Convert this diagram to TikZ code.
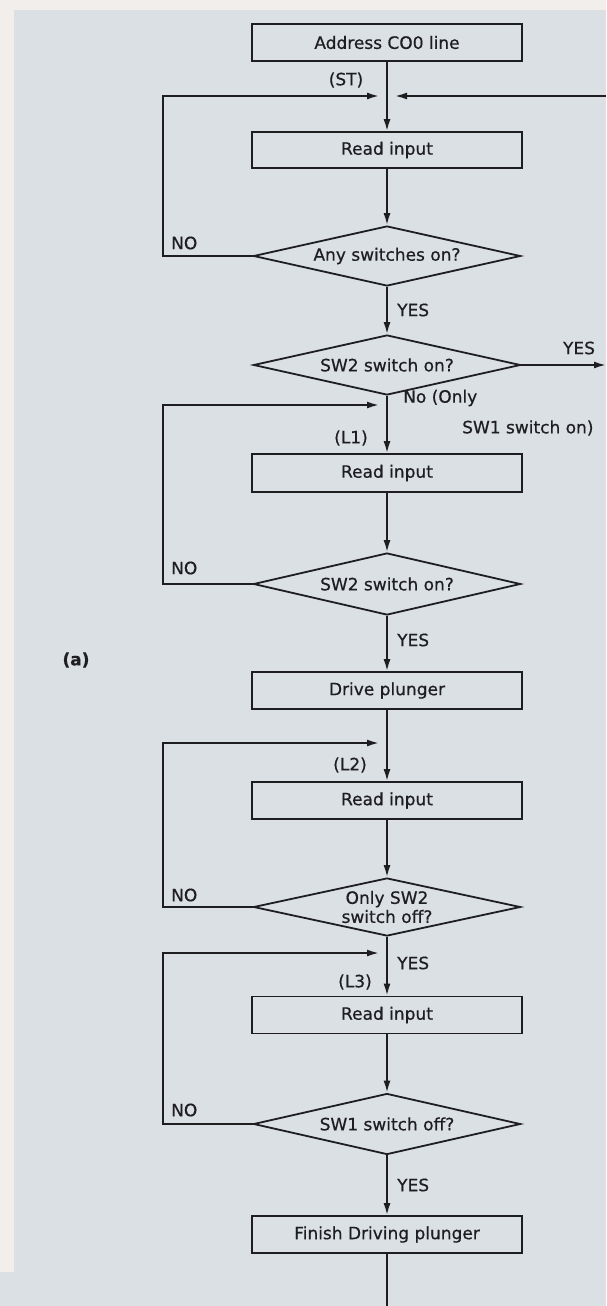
\documentclass[tikz,border=0pt]{standalone}
\usepackage{fontspec}
\setmainfont[FakeBold=0.6]{DejaVu Sans}
\usetikzlibrary{shapes.geometric,arrows.meta}
\definecolor{bg}{RGB}{219,224,229}
\definecolor{strip}{RGB}{242,238,236}
\definecolor{ink}{RGB}{30,30,33}
\begin{document}
\begin{tikzpicture}[x=1pt,y=-1pt,
  every node/.style={font=\fontsize{17}{19}\selectfont, text=ink},
  procbox/.style={draw=ink, line width=1.8pt, rectangle, minimum width=270pt, minimum height=37pt, inner sep=0pt},
  decbox/.style={draw=ink, line width=1.8pt, diamond, aspect=4.4, minimum width=267pt, minimum height=60pt, inner sep=0pt, align=center},
  flow/.style={draw=ink, line width=1.8pt, -{Latex[length=12pt,width=7pt]}},
  plainline/.style={draw=ink, line width=1.8pt},
  lbl/.style={inner sep=0pt}
]
\fill[bg] (0,0) rectangle (606,1306);
\useasboundingbox (0,0) rectangle (606,1306);
\fill[strip] (0,0) rectangle (606,10);
\fill[strip] (0,0) rectangle (14,1272);

% nodes
\node[procbox] (a0) at (387,42.5) {Address CO0 line};
\node[procbox, minimum height=36pt] (r1) at (387,150) {Read input};
\node[decbox] (d1) at (387,256) {Any switches on?};
\node[decbox] (d2) at (387,365) {SW2 switch on?};
\node[procbox, minimum height=38pt] (r2) at (387,473) {Read input};
\node[decbox, minimum height=62pt] (d3) at (387,584) {SW2 switch on?};
\node[procbox] (dp) at (387,690.5) {Drive plunger};
\node[procbox] (r3) at (387,800.5) {Read input};
\node[decbox, minimum height=58pt] (d4) at (387,907) {Only SW2\\switch off?};
\node[procbox] (r4) at (387,1015) {Read input};
\node[decbox, minimum height=61pt] (d5) at (387,1124) {SW1 switch off?};
\node[procbox] (fin) at (387,1234.5) {Finish Driving plunger};

% coordinates
\coordinate (lx1) at (163,96);
\coordinate (in1L) at (379,96);
\coordinate (in1R) at (395,96);
\coordinate (eR) at (606,96);
\coordinate (eR2) at (606,365);
\coordinate (lx2) at (163,405);
\coordinate (in2L) at (379,405);
\coordinate (lx3) at (163,743);
\coordinate (in3L) at (379,743);
\coordinate (lx4) at (163,953);
\coordinate (in4L) at (379,953);
\coordinate (bot) at (387,1306);

% connectors
\draw[flow] (a0) -- (r1);
\draw[flow] (eR) -- (in1R);
\draw[flow] (d1.west) -| (lx1) -- (in1L);
\draw[flow] (r1) -- (d1);
\draw[flow] (d1) -- (d2);
\draw[flow] (d2.east) -- (eR2);
\draw[flow] (d2) -- (r2);
\draw[flow] (d3.west) -| (lx2) -- (in2L);
\draw[flow] (r2) -- (d3);
\draw[flow] (d3) -- (dp);
\draw[flow] (dp) -- (r3);
\draw[flow] (d4.west) -| (lx3) -- (in3L);
\draw[flow] (r3) -- (d4);
\draw[flow] (d4) -- (r4);
\draw[flow] (d5.west) -| (lx4) -- (in4L);
\draw[flow] (r4) -- (d5);
\draw[flow] (d5) -- (fin);
\draw[plainline] (fin) -- (bot);

% labels
\node[lbl] (st) at (346,80) {(ST)};
\node[lbl, anchor=west] (no1) at (171,243) {NO};
\node[lbl, anchor=west] (yes1) at (397,310) {YES};
\node[lbl] (yes2) at (579,348) {YES};
\node[lbl, anchor=west] (no2a) at (403,398) {No (Only};
\node[lbl, anchor=west] (no2b) at (462,428) {SW1 switch on)};
\node[lbl] (l1) at (351,438) {(L1)};
\node[lbl, anchor=west] (no3) at (171,568) {NO};
\node[lbl, anchor=west] (yes3) at (397,640) {YES};
\node[lbl] (l2) at (350,765) {(L2)};
\node[lbl, anchor=west] (no4) at (171,895) {NO};
\node[lbl, anchor=west] (yes4) at (397,963) {YES};
\node[lbl] (l3) at (355,982) {(L3)};
\node[lbl, anchor=west] (no5) at (171,1110) {NO};
\node[lbl, anchor=west] (yes5) at (397,1185) {YES};
\node[lbl, font=\fontsize{17}{19}\selectfont\bfseries] (a) at (76,660) {(a)};
\end{tikzpicture}
\end{document}
